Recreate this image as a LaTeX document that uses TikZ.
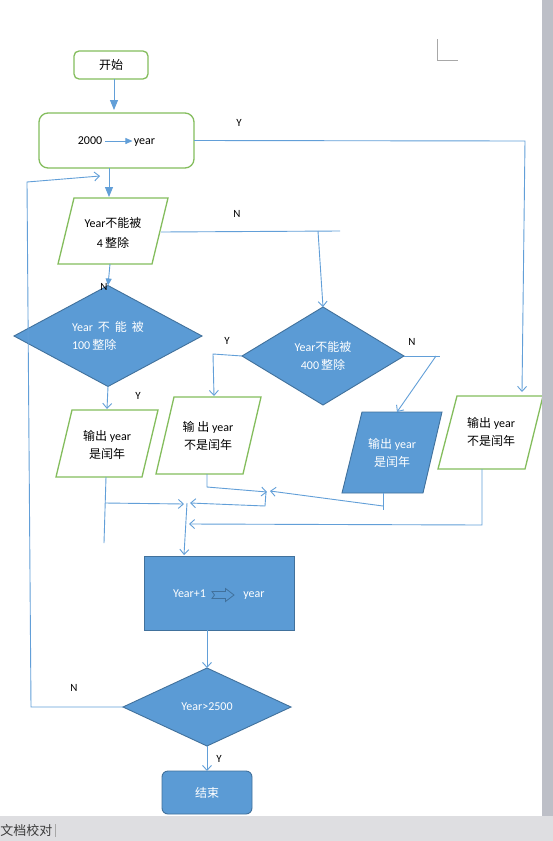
\documentclass[tikz,border=0pt]{standalone}
\usepackage{fontspec}
\setmainfont{Carlito}
\newfontfamily\cjk{Noto Sans CJK SC}
\usetikzlibrary{arrows.meta,shapes.geometric}
\definecolor{gborder}{HTML}{84BD5D}
\definecolor{bfill}{HTML}{5B9BD5}
\definecolor{bborder}{HTML}{41719C}
\definecolor{connc}{HTML}{629FD8}
\definecolor{sbar}{HTML}{BDBFC7}
\definecolor{stbar}{HTML}{DEDEE1}
\definecolor{markc}{HTML}{A8A8A8}
\definecolor{stext}{HTML}{3C3C3C}
\newcommand{\zh}[1]{{\cjk #1}}
\begin{document}
\begin{tikzpicture}[x=1pt,y=-1pt,
  font=\fontsize{12}{18}\selectfont,
  every node/.style={inner sep=0pt,outer sep=0pt},
  tline/.style={text height=8.5pt,text depth=2.5pt},
  gbox/.style={draw=gborder,line width=1.3pt,fill=white,rounded corners=#1},
  gbox/.default=6pt,
  bbox/.style={draw=bborder,line width=0.9pt,fill=bfill,text=white},
  bdiam/.style={diamond,draw=bborder,line width=0.9pt,fill=bfill,text=white},
  gpar/.style={draw=gborder,line width=1.3pt,fill=white},
  bpar/.style={draw=bborder,line width=0.9pt,fill=bfill},
  ptext/.style={align=center},
  conn/.style={draw=connc,line width=0.9pt},
  oarrow/.style={conn,-{Straight Barb[length=5pt,width=9pt,line width=0.9pt]}},
  farrow/.style={conn,-{Triangle[length=10pt,width=8pt]}},
  sarrow/.style={conn,-{Triangle[length=7pt,width=6pt]}},
  lbl/.style={font=\fontsize{11}{13}\selectfont},
]
\useasboundingbox (0,0) rectangle (553,841);
\fill[white] (0,0) rectangle (553,841);

% ---------- shapes ----------
\node[gbox=5pt,minimum width=74pt,minimum height=28pt] (start) at (111,65) {\zh{开始}};
\node[gbox=9pt,minimum width=155pt,minimum height=55pt] (init) at (116.5,140.5) {};
\node[tline] (n2000) at (90,141) {2000};
\node[tline] (nyear) at (144.5,141) {year};

% parallelogram: Year not divisible by 4
\draw[gpar] (74,198) -- (168,198) -- (152,264) -- (58,264) -- cycle;
\node[ptext,font=\fontsize{12}{20}\selectfont] (p4) at (113,233) {Year\zh{不能被}\\4\,\zh{整除}};
\coordinate (p4t) at (109,198);
\coordinate (p4b) at (110,264);
\coordinate (p4r) at (161,232);

% diamond 100
\node[bdiam,minimum width=188pt,minimum height=86pt,align=left] (d100) at (108,336)
  {Year\hspace{5pt}\zh{不}\hspace{5pt}\zh{能}\hspace{5pt}\zh{被}\\100\,\zh{整除}};

% diamond 400
\node[bdiam,minimum width=162pt,minimum height=98pt,align=center] (d400) at (323,356)
  {Year\zh{不能被}\\400\,\zh{整除}};

% left output: leap
\draw[gpar] (72,410) -- (158,410) -- (142,477) -- (56,477) -- cycle;
\node[ptext] (pl) at (107,444.5) {\zh{输出} year\\\zh{是闰年}};
\coordinate (plt) at (107,410);
\coordinate (plb) at (106,477);

% middle output: not leap
\draw[gpar] (174,397) -- (261,397) -- (243,474) -- (156,474) -- cycle;
\node[ptext] (pm) at (208,436) {\zh{输 出} year\\\zh{不是闰年}};
\coordinate (pmt) at (214,397);
\coordinate (pmb) at (207,474);

% blue output: leap
\draw[bpar] (362,412) -- (442,412) -- (423,493) -- (342,493) -- cycle;
\node[ptext,text=white] (pb) at (392,453) {\zh{输出} year\\\zh{是闰年}};
\coordinate (pbt) at (397,412);
\coordinate (pbb) at (383,493);

% right output: not leap
\draw[gpar] (457,396) -- (543,396) -- (525,469) -- (438,469) -- cycle;
\node[ptext] (pr) at (491,432) {\zh{输出} year\\\zh{不是闰年}};
\coordinate (prt) at (522,396);
\coordinate (prb) at (482,469);

% process box
\node[bbox,minimum width=150pt,minimum height=74pt] (proc) at (219.5,593) {};
\node[tline,text=white] (t1) at (189.5,594) {Year+1};
\node[tline,text=white] (t2) at (254,594) {year};
\draw[bborder,line width=0.8pt,line join=miter]
  (212,591.5) -- (225.5,591.5) -- (225.5,588.5) -- (234,595) -- (225.5,601.5)
  -- (225.5,598.5) -- (212,598.5) -- (214.5,595) -- cycle;

% diamond 2500
\node[bdiam,minimum width=168pt,minimum height=78pt] (d2500) at (207,707) {Year>2500};

% end
\node[bbox,rounded corners=6pt,minimum width=90pt,minimum height=43pt] (end) at (207,792.5) {\zh{结束}};

% ---------- connectors ----------
\draw[farrow] ([xshift=3pt]start.south) -- ([xshift=-2.5pt,yshift=3pt]init.north);
\draw[conn,-{Triangle[length=7pt,width=6pt]},shorten <=3pt,shorten >=1.5pt] (n2000) -- (nyear);
\draw[farrow] ([xshift=-7.5pt]init.south) -- ([yshift=1pt]p4t);

% Y: to right output
\draw[oarrow] (init.east) -- (525,141) -- ([yshift=4pt]prt);
\node[lbl] (ly1) at (239,123) {Y};

% N: from p4 to d400
\draw[conn] (p4r) -- (340,231);
\draw[oarrow] (318,231) -- (d400.north);
\node[lbl] (ln1) at (237,214) {N};

% p4 -> d100
\draw[sarrow] (p4b) -- (d100.north);
\node[lbl] (ln2) at (104,287) {N};

% d100 -> left output
\draw[oarrow] (d100.south) -- ([yshift=1pt]plt);
\node[lbl] (ly2) at (138,396) {Y};

% d400 -> middle output
\draw[oarrow] (d400.west) -- (213,354) -- ([yshift=1pt]pmt);
\node[lbl] (ly3) at (227,341) {Y};

% d400 -> blue output
\draw[conn] (d400.east) -- (440,356);
\draw[oarrow] (436,356) -- (pbt);
\node[lbl] (ln3) at (412,342) {N};

% merging lines
\draw[oarrow] (pmb) -- (207,487) -- (267,492);
\draw[conn] (pbb) -- (383,510);
\draw[oarrow] (383,506) -- (270,491);
\draw[oarrow] (266,492) -- (265,506) -- (190,503);
\draw[conn] (plb) -- (104,543);
\draw[oarrow] (105,503) -- (184,504);
\draw[oarrow] (187,503) -- ([xshift=-35.5pt,yshift=1pt]proc.north);
\draw[oarrow] (prb) -- (482,525) -- (189,524);

% process -> d2500
\draw[oarrow] ([xshift=-12.5pt]proc.south) -- (d2500.north);

% loop back
\draw[oarrow] (d2500.west) -- (31,707) -- (27,182) -- (100,176);
\node[lbl] (ln4) at (74,688) {N};

% d2500 -> end
\draw[oarrow] (d2500.south) -- (end.north);
\node[lbl] (ly4) at (219,759) {Y};

% ---------- window chrome ----------
\draw[markc,line width=1pt] (437,39) -- (437,60) -- (458,60);
\fill[sbar] (542,0) rectangle (553,816);
\fill[stbar] (0,816) rectangle (553,841);
\node[anchor=west,text=stext,font=\cjk\fontsize{13}{15}\selectfont] (status) at (0.5,831) {文档校对};
\draw[markc,line width=0.8pt] (55,824) -- (55,837);
\end{tikzpicture}
\end{document}
